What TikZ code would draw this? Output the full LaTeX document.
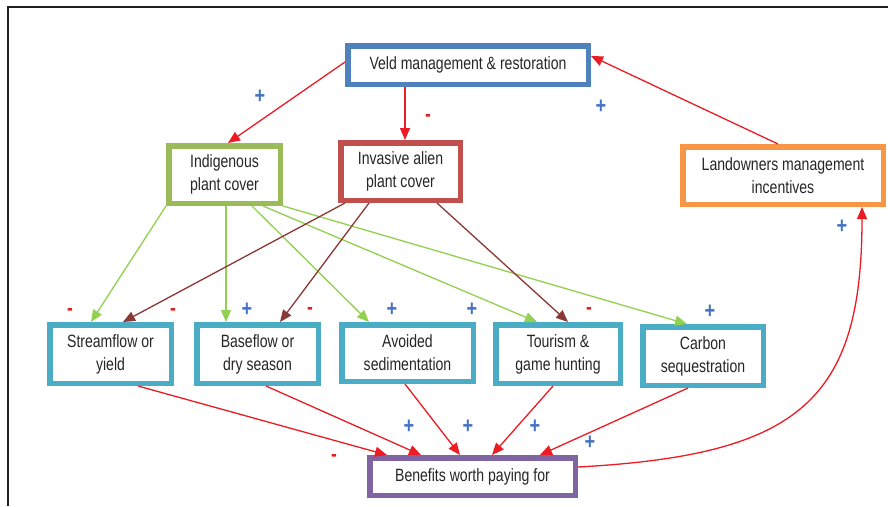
\documentclass[tikz,border=0pt]{standalone}
\usepackage{fontspec}
\setmainfont[FakeStretch=0.79]{Liberation Sans}
\usetikzlibrary{arrows.meta}
\definecolor{cveld}{RGB}{79,129,189}
\definecolor{cindig}{RGB}{155,187,89}
\definecolor{cinvas}{RGB}{192,80,77}
\definecolor{cland}{RGB}{247,150,70}
\definecolor{cserv}{RGB}{75,172,198}
\definecolor{cbenef}{RGB}{128,100,162}
\definecolor{ared}{RGB}{237,28,36}
\definecolor{agreen}{RGB}{146,208,80}
\definecolor{abrown}{RGB}{140,56,52}
\definecolor{splus}{RGB}{68,114,196}
\definecolor{sminus}{RGB}{230,30,30}
\definecolor{txt}{RGB}{38,38,38}
\definecolor{frame}{RGB}{35,31,32}
\tikzset{
  box/.style={draw, line width=5.5pt, fill=white, inner sep=0pt, align=center,
    text=txt, font=\fontsize{17.8}{23}\selectfont},
  redarr/.style={draw=ared, line width=1.3pt, -{Triangle[length=12pt,width=10pt]}},
  greenarr/.style={draw=agreen, line width=1.3pt, -{Triangle[length=12pt,width=10pt]}},
  brownarr/.style={draw=abrown, line width=1.3pt, -{Triangle[length=12pt,width=10pt]}},
  plussign/.style={text=splus, font=\fontsize{23}{23}\selectfont\bfseries, inner sep=0pt},
  minussign/.style={text=sminus, font=\fontsize{22}{22}\selectfont\bfseries, inner sep=0pt},
}
\begin{document}
\begin{tikzpicture}[x=1pt,y=-1pt]
\useasboundingbox (0,0) rectangle (888,506);
\fill[white] (0,0) rectangle (888,506);
\draw[frame, line width=2pt] (8,506) -- (8,6.5) -- (888,6.5);

% boxes
\node[box, draw=cveld, minimum width=240.5pt, minimum height=38.5pt] (veld) at (468,65) {Veld management \& restoration};
\node[box, draw=cindig, minimum width=111.5pt, minimum height=57.5pt] (indig) at (224.5,174.5) {Indigenous\\plant cover};
\node[box, draw=cinvas, minimum width=119.5pt, minimum height=57.5pt] (invas) at (400.5,171.5) {Invasive alien\\plant cover};
\node[box, draw=cland, minimum width=200.5pt, minimum height=57.5pt] (land) at (783,175.5) {Landowners management\\incentives};
\node[box, draw=cserv, minimum width=121.5pt, minimum height=58.5pt] (stream) at (110.5,354) {Streamflow or\\yield};
\node[box, draw=cserv, minimum width=121.5pt, minimum height=58.5pt] (base) at (257.5,354) {Baseflow or\\dry season};
\node[box, draw=cserv, minimum width=131.5pt, minimum height=56.5pt] (avoid) at (407.5,353) {Avoided\\sedimentation};
\node[box, draw=cserv, minimum width=124.5pt, minimum height=58.5pt] (tour) at (558,354) {Tourism \&\\game hunting};
\node[box, draw=cserv, minimum width=120.5pt, minimum height=58.5pt] (carbon) at (703,356) {Carbon\\sequestration};
\node[box, draw=cbenef, minimum width=205.5pt, minimum height=37.5pt] (benef) at (472.5,476.5) {Benefits worth paying for};

% red arrows
\draw[redarr] ([yshift=3pt]veld.west) -- ([xshift=3.5pt]indig.north);
\draw[redarr] ([xshift=-63pt]veld.south) -- ([xshift=4.5pt]invas.north);
\draw[redarr] ([xshift=-5pt]land.north) -- ([yshift=9pt]veld.east);
\draw[redarr] ([yshift=9.5pt]benef.east) .. controls (800,455) and (862,400) .. ([xshift=79pt]land.south);
\draw[redarr] ([xshift=27.5pt]stream.south) -- ([xshift=-85.5pt]benef.north);
\draw[redarr] ([xshift=8.5pt]base.south) -- ([xshift=-51.5pt]benef.north);
\draw[redarr] ([xshift=-2.5pt]avoid.south) -- ([xshift=-12.5pt]benef.north);
\draw[redarr] ([xshift=-5pt]tour.south) -- ([xshift=19.5pt]benef.north);
\draw[redarr] ([xshift=-15pt]carbon.south) -- ([xshift=67.5pt]benef.north);

% green arrows
\draw[greenarr] ([xshift=-58.5pt]indig.south) -- ([xshift=-19.5pt]stream.north);
\draw[greenarr] ([xshift=1.5pt]indig.south) -- ([xshift=-31.5pt]base.north);
\draw[greenarr] ([xshift=27.5pt]indig.south) -- ([xshift=-38.5pt]avoid.north);
\draw[greenarr] ([xshift=38.5pt]indig.south) -- ([xshift=-21pt]tour.north);
\draw[greenarr] (indig.south east) -- ([xshift=-16pt]carbon.north);

% brown arrows
\draw[brownarr] ([xshift=-55.5pt]invas.south) -- ([xshift=12.5pt]stream.north);
\draw[brownarr] ([xshift=-31.5pt]invas.south) -- ([xshift=22.5pt]base.north);
\draw[brownarr] ([xshift=36.5pt]invas.south) -- ([xshift=10pt]tour.north);

% signs
\node[plussign] (p1) at (260,97) {+};
\node[plussign] (p2) at (601,107) {+};
\node[plussign] (p3) at (842,227) {+};
\node[plussign] (p4) at (247,310) {+};
\node[plussign] (p5) at (392,310) {+};
\node[plussign] (p6) at (472,310) {+};
\node[plussign] (p7) at (710,312) {+};
\node[plussign] (p8) at (409,427) {+};
\node[plussign] (p9) at (468,427) {+};
\node[plussign] (p10) at (535,427) {+};
\node[plussign] (p11) at (590,443) {+};
\node[minussign] (m1) at (428,118) {-};
\node[minussign] (m2) at (70,312) {-};
\node[minussign] (m3) at (173,312) {-};
\node[minussign] (m4) at (310,311) {-};
\node[minussign] (m5) at (589,311) {-};
\node[minussign] (m6) at (334,458) {-};
\end{tikzpicture}
\end{document}
